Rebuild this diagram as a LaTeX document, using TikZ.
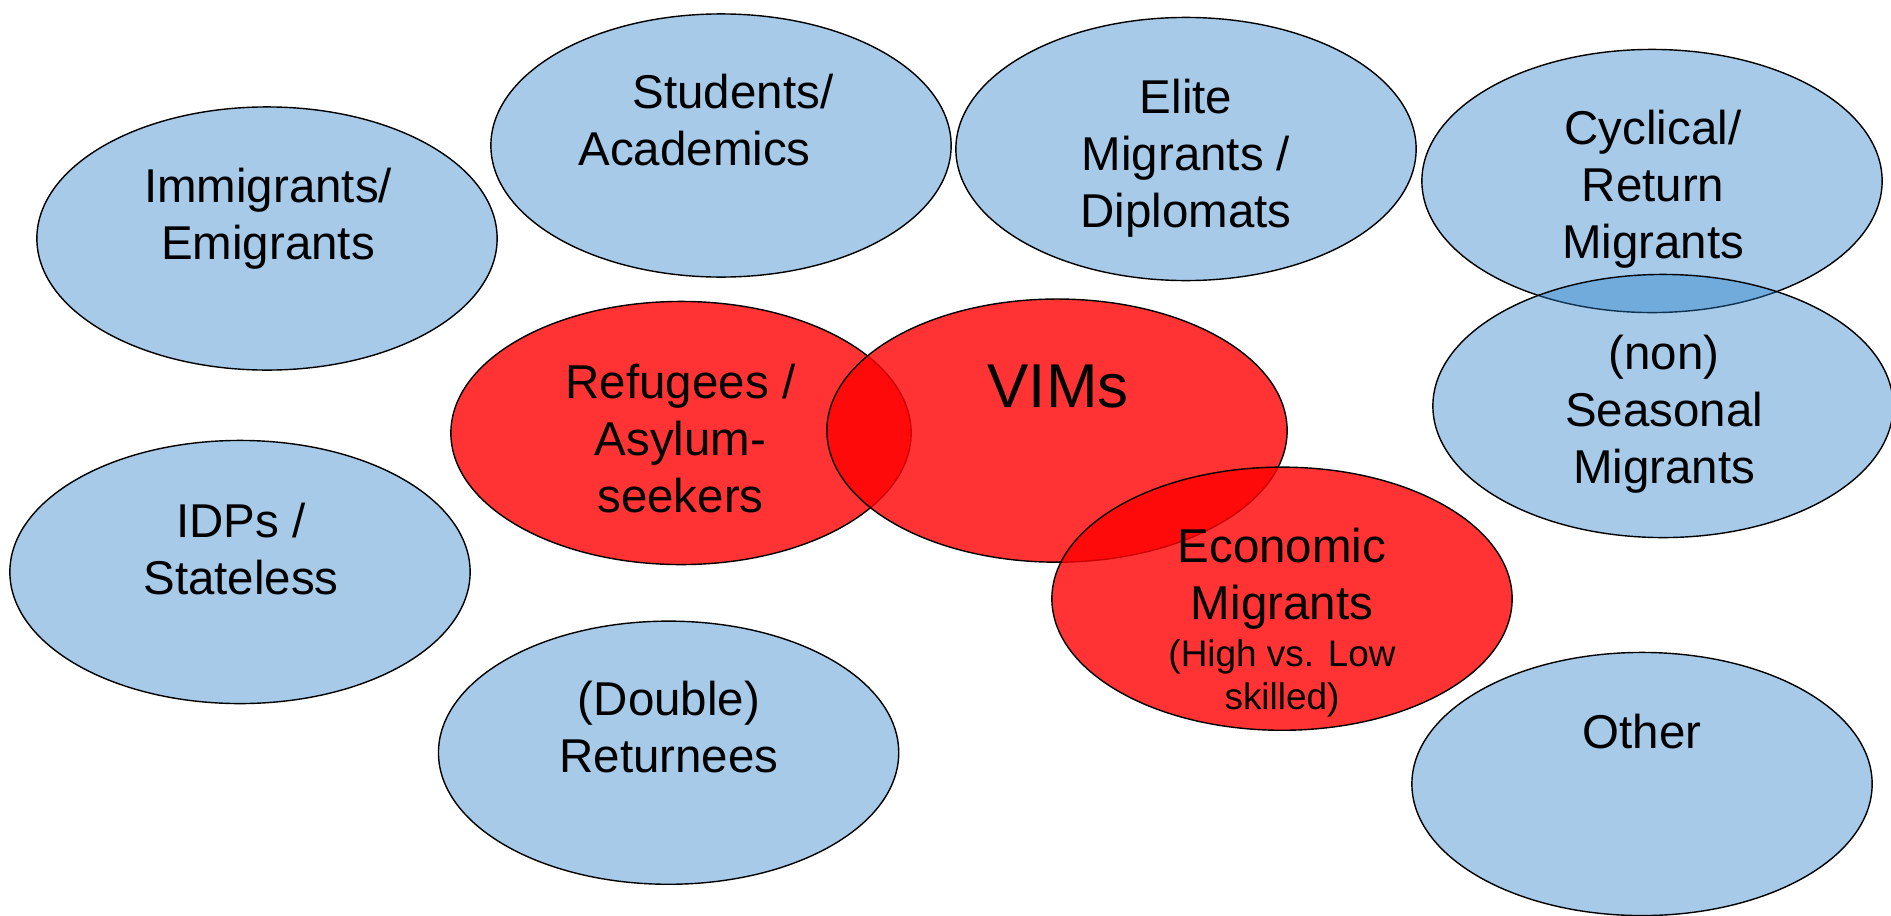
\documentclass[tikz,border=0pt]{standalone}
\usepackage{fontspec}
\setmainfont{Liberation Sans}
\usepackage{tikz}
\usetikzlibrary{shapes.geometric}
\definecolor{migblue}{RGB}{33,123,198}
\definecolor{vimred}{RGB}{255,0,0}
\newcommand{\smalltxt}{\fontsize{10.5}{12.2}\selectfont}

\begin{document}
\begin{tikzpicture}[
  x=0.01cm, y=-0.01cm,
  grpshape/.style={ellipse, draw=black, line width=0.4pt, minimum width=4.6cm, minimum height=2.63cm, inner sep=0pt},
  bluegrp/.style={grpshape, fill=migblue, fill opacity=0.4},
  redgrp/.style={grpshape, fill=vimred, fill opacity=0.8},
  lbl/.style={font=\fontsize{13.5}{16.2}\selectfont, align=center, inner sep=0pt, text=black}
]
  \useasboundingbox (0,0) rectangle (1891,915);

  % Migrant groups
  \node[bluegrp] (imm) at (267,238.5) {};
  \node[bluegrp] (stu) at (721,145.5) {};
  \node[bluegrp] (eli) at (1186,149) {};
  \node[bluegrp] (cyc) at (1652,181) {};
  \node[bluegrp] (sea) at (1663,406) {};
  \node[bluegrp] (idp) at (240,572) {};
  \node[bluegrp] (ret) at (668.6,752.7) {};
  \node[bluegrp] (oth) at (1642,784) {};

  % VIMs and overlapping groups
  \node[redgrp] (ref) at (681,433) {};
  \node[redgrp] (vim) at (1057,430.6) {};
  \node[redgrp] (eco) at (1282,598.7) {};

  % Labels
  \node[lbl] (immtxt) at (268,219) {Immigrants/\\Emigrants};
  \node[lbl] (stutxt) at (694.5,120.5) {\hspace*{0.77cm}Students/\\Academics};
  \node[lbl] (elitxt) at (1186,158) {Elite\\Migrants /\\Diplomats};
  \node[lbl] (cyctxt) at (1653,189.5) {Cyclical/\\Return\\Migrants};
  \node[lbl] (seatxt) at (1664,414.5) {(non)\\Seasonal\\Migrants};
  \node[lbl] (idptxt) at (241,548.6) {IDPs /\\Stateless};
  \node[lbl] (rettxt) at (669,727.5) {(Double)\\Returnees};
  \node[lbl] (othtxt) at (1642,731.5) {Other};
  \node[lbl] (reftxt) at (680.5,438.5) {Refugees /\\Asylum-\\seekers};
  \node[lbl, font=\fontsize{17.6}{21}\selectfont] (vimtxt) at (1058,386.5) {VIMs};
  \node[lbl] (ecotxt) at (1282,622.7) {Economic\\Migrants\\[-2.8pt]{\smalltxt (High vs. Low}\\[-4pt]{\smalltxt skilled)}};
\end{tikzpicture}
\end{document}
